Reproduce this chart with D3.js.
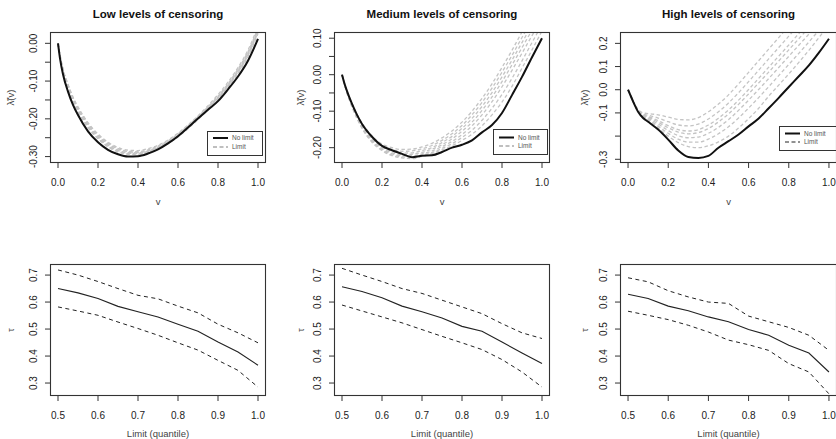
<!DOCTYPE html>
<html><head><meta charset="utf-8">
<script src="https://cdn.jsdelivr.net/npm/d3@7"></script>
<style>
html,body{margin:0;padding:0;background:#fff;}
svg{display:block;font-family:"Liberation Sans",Arial,sans-serif;}
</style></head>
<body>
<script>
// ---------------- DATA ----------------
const vGrid = [0, 0.01, 0.025, 0.05, 0.075, 0.1, 0.15, 0.2, 0.25, 0.3, 0.35, 0.4, 0.45, 0.5, 0.55, 0.6, 0.65, 0.7, 0.75, 0.8, 0.85, 0.9, 0.95, 1.0];

const lowNoLimit = [0, -0.04, -0.082, -0.128, -0.163, -0.19, -0.233, -0.262, -0.282, -0.294, -0.300, -0.299, -0.292, -0.281, -0.265, -0.246, -0.223, -0.199, -0.176, -0.153, -0.122, -0.088, -0.046, 0.012];
const lowLimit = [
  [0, -0.030, -0.068, -0.108, -0.142, -0.168, -0.210, -0.240, -0.262, -0.276, -0.283, -0.284, -0.279, -0.270, -0.256, -0.238, -0.216, -0.192, -0.165, -0.136, -0.103, -0.064, -0.018, 0.045],
  [0, -0.032, -0.072, -0.113, -0.147, -0.173, -0.215, -0.245, -0.266, -0.279, -0.286, -0.287, -0.282, -0.272, -0.258, -0.240, -0.218, -0.194, -0.168, -0.140, -0.107, -0.068, -0.022, 0.040],
  [0, -0.034, -0.075, -0.117, -0.151, -0.177, -0.219, -0.249, -0.270, -0.283, -0.289, -0.290, -0.285, -0.275, -0.260, -0.242, -0.220, -0.196, -0.170, -0.142, -0.110, -0.071, -0.026, 0.036],
  [0, -0.036, -0.078, -0.120, -0.155, -0.181, -0.223, -0.253, -0.273, -0.286, -0.292, -0.292, -0.287, -0.277, -0.262, -0.244, -0.222, -0.198, -0.172, -0.145, -0.113, -0.075, -0.030, 0.032],
  [0, -0.033, -0.070, -0.110, -0.145, -0.172, -0.216, -0.248, -0.270, -0.284, -0.291, -0.292, -0.288, -0.279, -0.264, -0.246, -0.223, -0.199, -0.173, -0.146, -0.114, -0.076, -0.032, 0.030],
  [0, -0.031, -0.069, -0.111, -0.146, -0.171, -0.212, -0.243, -0.265, -0.279, -0.287, -0.289, -0.285, -0.276, -0.262, -0.244, -0.221, -0.197, -0.171, -0.143, -0.110, -0.072, -0.027, 0.035],
  [0, -0.035, -0.076, -0.118, -0.152, -0.179, -0.222, -0.252, -0.274, -0.288, -0.294, -0.295, -0.290, -0.280, -0.266, -0.248, -0.226, -0.202, -0.176, -0.149, -0.117, -0.080, -0.036, 0.026]
];

const medNoLimit = [0, -0.02, -0.045, -0.08, -0.11, -0.135, -0.17, -0.195, -0.207, -0.217, -0.226, -0.222, -0.221, -0.212, -0.200, -0.192, -0.180, -0.158, -0.138, -0.105, -0.056, -0.006, 0.048, 0.100];
const medLimit = [
  [0, -0.020, -0.045, -0.078, -0.108, -0.132, -0.168, -0.190, -0.200, -0.205, -0.204, -0.198, -0.188, -0.173, -0.154, -0.130, -0.100, -0.065, -0.025, 0.020, 0.067, 0.117, 0.165, 0.210],
  [0, -0.020, -0.046, -0.080, -0.110, -0.135, -0.172, -0.194, -0.205, -0.210, -0.209, -0.203, -0.194, -0.180, -0.162, -0.139, -0.110, -0.076, -0.037, 0.007, 0.053, 0.102, 0.150, 0.196],
  [0, -0.021, -0.047, -0.082, -0.113, -0.138, -0.175, -0.198, -0.210, -0.215, -0.214, -0.208, -0.200, -0.186, -0.169, -0.147, -0.120, -0.087, -0.049, -0.006, 0.040, 0.088, 0.136, 0.182],
  [0, -0.021, -0.048, -0.084, -0.115, -0.141, -0.178, -0.201, -0.214, -0.219, -0.218, -0.213, -0.204, -0.192, -0.176, -0.155, -0.130, -0.098, -0.061, -0.019, 0.027, 0.074, 0.122, 0.168],
  [0, -0.022, -0.049, -0.085, -0.117, -0.143, -0.181, -0.204, -0.217, -0.222, -0.222, -0.217, -0.209, -0.197, -0.183, -0.164, -0.140, -0.110, -0.074, -0.033, 0.012, 0.059, 0.107, 0.153],
  [0, -0.022, -0.050, -0.087, -0.119, -0.145, -0.183, -0.206, -0.220, -0.225, -0.226, -0.221, -0.213, -0.202, -0.189, -0.172, -0.152, -0.125, -0.092, -0.054, -0.010, 0.038, 0.088, 0.137],
  [0, -0.022, -0.050, -0.088, -0.120, -0.147, -0.185, -0.208, -0.222, -0.228, -0.230, -0.224, -0.216, -0.206, -0.195, -0.180, -0.163, -0.140, -0.110, -0.075, -0.032, 0.018, 0.068, 0.120]
];

const highNoLimit = [0, -0.02, -0.05, -0.095, -0.122, -0.138, -0.172, -0.215, -0.262, -0.290, -0.294, -0.285, -0.250, -0.222, -0.193, -0.158, -0.124, -0.080, -0.035, 0.012, 0.058, 0.105, 0.160, 0.220];
const highLimit = [
  [0, -0.02, -0.05, -0.085, -0.100, -0.103, -0.108, -0.118, -0.128, -0.130, -0.120, -0.095, -0.062, -0.022, 0.025, 0.075, 0.125, 0.175, 0.225, 0.275, 0.325, 0.375, 0.425, 0.475],
  [0, -0.02, -0.05, -0.087, -0.104, -0.110, -0.122, -0.138, -0.152, -0.156, -0.148, -0.126, -0.095, -0.057, -0.013, 0.035, 0.084, 0.133, 0.182, 0.231, 0.280, 0.330, 0.380, 0.430],
  [0, -0.02, -0.05, -0.088, -0.107, -0.115, -0.133, -0.155, -0.172, -0.178, -0.172, -0.152, -0.123, -0.087, -0.045, 0.001, 0.049, 0.097, 0.145, 0.193, 0.242, 0.290, 0.340, 0.390],
  [0, -0.02, -0.05, -0.089, -0.109, -0.118, -0.140, -0.164, -0.183, -0.190, -0.185, -0.167, -0.139, -0.104, -0.063, -0.018, 0.029, 0.076, 0.124, 0.172, 0.220, 0.268, 0.318, 0.368],
  [0, -0.02, -0.05, -0.090, -0.111, -0.122, -0.148, -0.176, -0.198, -0.207, -0.204, -0.188, -0.162, -0.129, -0.089, -0.045, 0.001, 0.048, 0.096, 0.144, 0.192, 0.240, 0.290, 0.340],
  [0, -0.02, -0.05, -0.092, -0.113, -0.126, -0.157, -0.188, -0.213, -0.226, -0.226, -0.213, -0.190, -0.160, -0.122, -0.079, -0.034, 0.013, 0.061, 0.109, 0.157, 0.206, 0.256, 0.306],
  [0, -0.02, -0.05, -0.093, -0.115, -0.130, -0.165, -0.200, -0.228, -0.245, -0.250, -0.242, -0.225, -0.200, -0.165, -0.125, -0.080, -0.028, 0.020, 0.068, 0.118, 0.170, 0.225, 0.280]
];

const limitQ = [0.5, 0.55, 0.6, 0.65, 0.7, 0.75, 0.8, 0.85, 0.9, 0.95, 1.0];
const lowTau   = [0.650, 0.634, 0.613, 0.584, 0.564, 0.545, 0.518, 0.492, 0.452, 0.415, 0.366];
const lowUpper = [0.719, 0.700, 0.676, 0.650, 0.625, 0.612, 0.585, 0.560, 0.518, 0.486, 0.449];
const lowLower = [0.582, 0.567, 0.551, 0.526, 0.502, 0.477, 0.449, 0.422, 0.384, 0.347, 0.285];
const medTau   = [0.657, 0.639, 0.616, 0.585, 0.564, 0.541, 0.510, 0.492, 0.452, 0.411, 0.372];
const medUpper = [0.725, 0.700, 0.676, 0.650, 0.632, 0.607, 0.582, 0.557, 0.520, 0.486, 0.465];
const medLower = [0.589, 0.567, 0.545, 0.523, 0.498, 0.473, 0.449, 0.424, 0.387, 0.341, 0.285];
const highTau   = [0.629, 0.613, 0.585, 0.568, 0.545, 0.527, 0.498, 0.477, 0.440, 0.411, 0.341];
const highUpper = [0.690, 0.675, 0.642, 0.619, 0.600, 0.595, 0.548, 0.527, 0.506, 0.477, 0.421];
const highLower = [0.566, 0.551, 0.535, 0.514, 0.489, 0.459, 0.442, 0.421, 0.372, 0.341, 0.260];

const topTitles = ["Low levels of censoring", "Medium levels of censoring", "High levels of censoring"];
const vTicks = [0, 0.2, 0.4, 0.6, 0.8, 1.0];
const qTicks = [0.5, 0.6, 0.7, 0.8, 0.9, 1.0];
const tauTicks = [0.3, 0.4, 0.5, 0.6, 0.7];
const lowLamTicks = [-0.30, -0.25, -0.20, -0.15, -0.10, -0.05, 0.00];
const lowLamLabels = ["-0.30", "", "-0.20", "", "-0.10", "", "0.00"];
const medLamTicks = [-0.20, -0.15, -0.10, -0.05, 0.00, 0.05, 0.10];
const medLamLabels = ["-0.20", "", "-0.10", "", "0.00", "", "0.10"];
const highLamTicks = [-0.3, -0.2, -0.1, 0.0, 0.1, 0.2];
const highLamLabels = ["-0.3", "", "-0.1", "0.0", "0.1", "0.2"];
const legendLabels = ["No limit", "Limit"];

// ---------------- LAYOUT ----------------
const W = 836, H = 439;
const svg = d3.select("body").append("svg").attr("width", W).attr("height", H);
const cols = [
  {l: 50, r: 266, ylab: 10},
  {l: 334, r: 550, ylab: 300},
  {l: 620, r: 837, ylab: 584}
];
const topBox = {t: 32, b: 163};
const botBox = {t: 264, b: 396};
const FONT = '"Liberation Sans",Arial,sans-serif';

const topPanels = [
  {noLim: lowNoLimit, lim: lowLimit, dom: [-0.317, 0.030], ticks: lowLamTicks, labels: lowLamLabels,
   leg: {x: 207, y: 131, w: 55, h: 24, row1: 138, row2: 147, limColor: "#aaa", limW: 1.6}},
  {noLim: medNoLimit, lim: medLimit, dom: [-0.242, 0.117], ticks: medLamTicks, labels: medLamLabels,
   leg: {x: 493, y: 129, w: 54, h: 25, row1: 137.5, row2: 146, limColor: "#aaa", limW: 1.6}},
  {noLim: highNoLimit, lim: highLimit, dom: [-0.316, 0.249], ticks: highLamTicks, labels: highLamLabels,
   leg: {x: 779, y: 126, w: 60, h: 24, row1: 133.5, row2: 142, limColor: "#222", limW: 1}}
];
const botPanels = [
  {mid: lowTau, up: lowUpper, lo: lowLower},
  {mid: medTau, up: medUpper, lo: medLower},
  {mid: highTau, up: highUpper, lo: highLower}
];

function frame(g, col, box, x, y, xt, xfmt, yt, ylabels, xlabel, ylabel, clipId) {
  // clip
  svg.append("clipPath").attr("id", clipId).append("rect")
    .attr("x", col.l).attr("y", box.t).attr("width", col.r - col.l).attr("height", box.b - box.t);
  // x axis ticks
  xt.forEach(v => {
    g.append("line").attr("x1", x(v)).attr("x2", x(v)).attr("y1", box.b).attr("y2", box.b + 5)
      .attr("stroke", "#333").attr("stroke-width", 1);
    g.append("text").attr("x", x(v)).attr("y", box.b + 22.5).attr("text-anchor", "middle")
      .attr("font-size", 10).attr("fill", "#222").text(xfmt(v));
  });
  // y axis ticks
  yt.forEach((v, i) => {
    g.append("line").attr("x1", col.l - 5).attr("x2", col.l).attr("y1", y(v)).attr("y2", y(v))
      .attr("stroke", "#333").attr("stroke-width", 1);
    if (ylabels[i]) {
      g.append("text").attr("transform", `translate(${col.l - 13.5},${y(v)}) rotate(-90)`)
        .attr("text-anchor", "middle").attr("font-size", 10).attr("fill", "#222").text(ylabels[i]);
    }
  });
  // axis labels
  g.append("text").attr("x", (col.l + col.r) / 2).attr("y", box.b + (box === topBox ? 42 : 40.5))
    .attr("text-anchor", "middle").attr("font-size", 9.5).attr("fill", "#444").text(xlabel);
  g.append("text").attr("transform", `translate(${col.ylab + 3.5},${(box.t + box.b) / 2}) rotate(-90)`)
    .attr("text-anchor", "middle").attr("font-size", 9.5).attr("fill", "#444").text(ylabel);
}

function drawBox(g, col, box) {
  g.append("rect").attr("x", col.l + 0.5).attr("y", box.t + 0.5)
    .attr("width", col.r - col.l - 1).attr("height", box.b - box.t - 1)
    .attr("fill", "none").attr("stroke", "#333").attr("stroke-width", 1.1);
}

// ---------------- TOP PANELS ----------------
topPanels.forEach((p, i) => {
  const col = cols[i];
  const g = svg.append("g");
  const x = d3.scaleLinear().domain([-0.04, 1.04]).range([col.l, col.r]);
  const y = d3.scaleLinear().domain(p.dom).range([topBox.b, topBox.t]);
  const clipId = "clipT" + i;
  frame(g, col, topBox, x, y, vTicks, d3.format(".1f"), p.ticks, p.labels, "v", "\u03BB\u0303(v)", clipId);

  const line = d3.line().x((d, j) => x(vGrid[j])).y(d => y(d)).curve(d3.curveMonotoneX);
  const lg = g.append("g").attr("clip-path", `url(#${clipId})`);
  p.lim.forEach(s => {
    lg.append("path").attr("d", line(s)).attr("fill", "none")
      .attr("stroke", "#c4c4c4").attr("stroke-width", 1.3).attr("stroke-dasharray", "3.5,2.5");
  });
  lg.append("path").attr("d", line(p.noLim)).attr("fill", "none")
    .attr("stroke", "#111").attr("stroke-width", 2);

  // title
  g.append("text").attr("x", (col.l + col.r) / 2).attr("y", 17.5).attr("text-anchor", "middle")
    .attr("font-size", 11.5).attr("font-weight", "bold").attr("fill", "#111").text(topTitles[i]);

  // legend
  const L = p.leg;
  g.append("rect").attr("x", L.x + 0.5).attr("y", L.y + 0.5).attr("width", L.w).attr("height", L.h)
    .attr("fill", "#fff").attr("stroke", "#333").attr("stroke-width", 1);
  g.append("line").attr("x1", L.x + 6).attr("x2", L.x + 21).attr("y1", L.row1).attr("y2", L.row1)
    .attr("stroke", "#111").attr("stroke-width", 2);
  g.append("line").attr("x1", L.x + 6).attr("x2", L.x + 21).attr("y1", L.row2).attr("y2", L.row2)
    .attr("stroke", L.limColor).attr("stroke-width", L.limW).attr("stroke-dasharray", "4,2.5");
  [L.row1, L.row2].forEach((ry, k) => {
    g.append("text").attr("x", L.x + 25).attr("y", ry + 2.3).attr("font-size", 6.5)
      .attr("fill", "#555").text(legendLabels[k]);
  });
  drawBox(g, col, topBox);
});

// ---------------- BOTTOM PANELS ----------------
botPanels.forEach((p, i) => {
  const col = cols[i];
  const g = svg.append("g");
  const x = d3.scaleLinear().domain([0.48, 1.02]).range([col.l, col.r]);
  const y = d3.scaleLinear().domain([0.252, 0.741]).range([botBox.b, botBox.t]);
  const clipId = "clipB" + i;
  frame(g, col, botBox, x, y, qTicks, d3.format(".1f"), tauTicks, tauTicks.map(d3.format(".1f")),
        "Limit (quantile)", "\u03C4", clipId);
  const line = d3.line().x((d, j) => x(limitQ[j])).y(d => y(d));
  const lg = g.append("g").attr("clip-path", `url(#${clipId})`);
  lg.append("path").attr("d", line(p.up)).attr("fill", "none").attr("stroke", "#222")
    .attr("stroke-width", 1).attr("stroke-dasharray", "4,3.5");
  lg.append("path").attr("d", line(p.lo)).attr("fill", "none").attr("stroke", "#222")
    .attr("stroke-width", 1).attr("stroke-dasharray", "4,3.5");
  lg.append("path").attr("d", line(p.mid)).attr("fill", "none").attr("stroke", "#222")
    .attr("stroke-width", 1.1);
  drawBox(g, col, botBox);
});
</script>
</body></html>
